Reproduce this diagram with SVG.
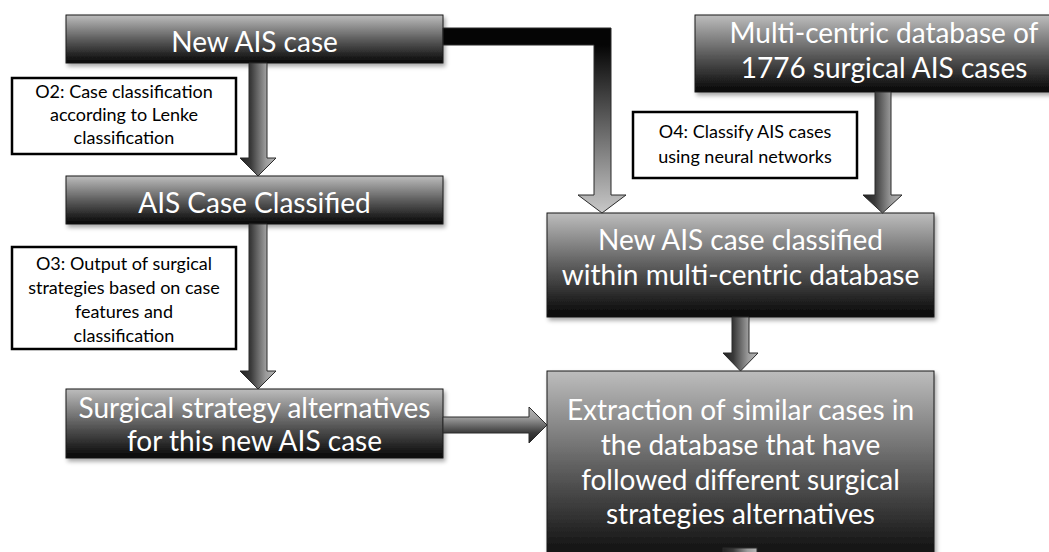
<svg xmlns="http://www.w3.org/2000/svg" width="1049" height="552" viewBox="0 0 1049 552">
<defs>
<linearGradient id="gNode" x1="0" y1="0" x2="0" y2="1">
<stop offset="0" stop-color="#bdbdbd"/>
<stop offset="0.5" stop-color="#5e5e5e"/>
<stop offset="1" stop-color="#050505"/>
</linearGradient>
<linearGradient id="gDown" x1="0" y1="0" x2="1" y2="0">
<stop offset="0" stop-color="#222"/>
<stop offset="0.3" stop-color="#3a3a3a"/>
<stop offset="0.72" stop-color="#9c9c9c"/>
<stop offset="1" stop-color="#b5b5b5"/>
</linearGradient>
<linearGradient id="gRight" x1="0" y1="0" x2="0" y2="1">
<stop offset="0" stop-color="#b5b5b5"/>
<stop offset="0.3" stop-color="#9c9c9c"/>
<stop offset="0.72" stop-color="#3a3a3a"/>
<stop offset="1" stop-color="#222"/>
</linearGradient>
<linearGradient id="gElbow" gradientUnits="userSpaceOnUse" x1="0" y1="45" x2="0" y2="213">
<stop offset="0" stop-color="#050505"/>
<stop offset="1" stop-color="#c8c8c8"/>
</linearGradient>
<filter id="sh" x="-5%" y="-10%" width="115%" height="130%">
<feDropShadow dx="2" dy="3" stdDeviation="2" flood-color="#000" flood-opacity="0.35"/>
</filter>
</defs>
<style>
.node{fill:url(#gNode);stroke:#1a1a1a;stroke-width:1;filter:url(#sh)}
.lbl{fill:#fff;stroke:#000;stroke-width:2.5}
.arr{stroke:#2a2a2a;stroke-width:1;stroke-linejoin:miter}
.nt{font-family:Lato,'Open Sans',sans-serif;font-size:28px;fill:#fff;text-anchor:middle}
.lt{font-family:Lato,'Open Sans',sans-serif;font-size:18px;fill:#000;text-anchor:middle}
</style>
<rect width="1049" height="552" fill="#fff"/>

<g id="o2">
<rect class="lbl" x="12" y="78" width="224" height="76"/>
<text class="lt" x="124" y="98">O2: Case classification</text>
<text class="lt" x="124" y="121">according to Lenke</text>
<text class="lt" x="124" y="144">classification</text>
</g>
<g id="o3">
<rect class="lbl" x="12" y="247" width="224" height="102"/>
<text class="lt" x="124" y="270">O3: Output of surgical</text>
<text class="lt" x="124" y="294">strategies based on case</text>
<text class="lt" x="124" y="318">features and</text>
<text class="lt" x="124" y="342">classification</text>
</g>
<g id="o4">
<rect class="lbl" x="633" y="112" width="224" height="66"/>
<text class="lt" x="745" y="138">O4: Classify AIS cases</text>
<text class="lt" x="745" y="163">using neural networks</text>
</g>

<g id="n1">
<rect class="node" x="66" y="15" width="377" height="48"/>
<text class="nt" x="254.5" y="52">New AIS case</text>
</g>
<g id="n2">
<rect class="node" x="66" y="176" width="377" height="48"/>
<text class="nt" x="254.5" y="213">AIS Case Classified</text>
</g>
<g id="n3">
<rect class="node" x="66" y="389" width="377" height="69"/>
<text class="nt" x="254.5" y="418">Surgical strategy alternatives</text>
<text class="nt" x="254.5" y="451">for this new AIS case</text>
</g>
<g id="nm">
<rect class="node" x="695" y="15" width="385" height="77"/>
<text class="nt" x="884" y="43">Multi-centric database of</text>
<text class="nt" x="884" y="78">1776 surgical AIS cases</text>
</g>
<g id="n4">
<rect class="node" x="547" y="213" width="387" height="104"/>
<text class="nt" x="740.5" y="250">New AIS case classified</text>
<text class="nt" x="740.5" y="285">within multi-centric database</text>
</g>
<g id="n5">
<rect class="node" x="547" y="371" width="387" height="195"/>
<text class="nt" x="740.5" y="420">Extraction of similar cases in</text>
<text class="nt" x="740.5" y="455">the database that have</text>
<text class="nt" x="740.5" y="490">followed different surgical</text>
<text class="nt" x="740.5" y="524">strategies alternatives</text>
</g>

<g id="connectors">
<path class="arr" fill="url(#gDown)" d="M249,63 H267 V158 H276 L258,176 L240,158 H249 Z"/>
<path class="arr" fill="url(#gDown)" d="M249,224 H267 V371 H276 L258,389 L240,371 H249 Z"/>
<path class="arr" fill="url(#gElbow)" d="M443,28 H611 V195 H626 L602,213 L578,195 H594 V45 H443 Z"/>
<path class="arr" fill="url(#gDown)" d="M875,92 H891 V195 H902 L882.5,213 L863,195 H875 Z"/>
<path class="arr" fill="url(#gDown)" d="M732,317 H749 V353 H758 L740.5,371 L723,353 H732 Z"/>
<path class="arr" fill="url(#gRight)" d="M443,417 H529 V407 L547,425 L529,443 V433 H443 Z"/>
<rect class="arr" fill="url(#gDown)" x="723" y="548" width="34" height="6"/>
</g>
</svg>
